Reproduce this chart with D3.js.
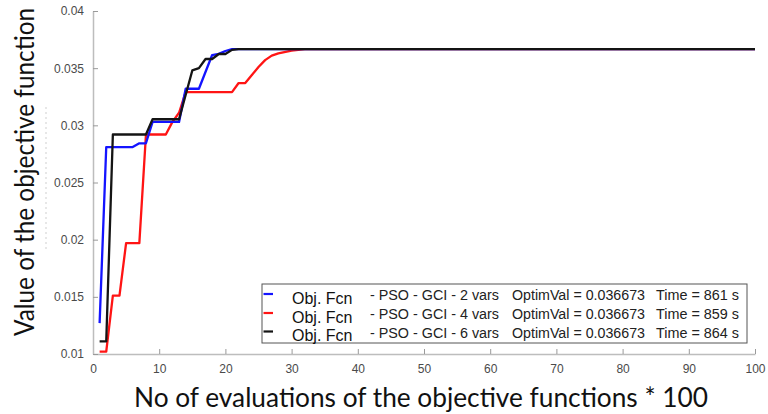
<!DOCTYPE html>
<html><head><meta charset="utf-8">
<script src="https://cdn.jsdelivr.net/npm/d3@7"></script>
<style>body{margin:0;background:#fff}svg{display:block}</style>
</head><body>
<svg id="c" width="768" height="414"></svg>
<script>
// ---- data ----
const xTicks = [0,10,20,30,40,50,60,70,80,90,100];
const yTicks = [0.01,0.015,0.02,0.025,0.03,0.035,0.04];
const yTickLabels = ["0.01","0.015","0.02","0.025","0.03","0.035","0.04"];

const blueX = [1,2,6,7,8,9,13,14,16,18,19,20,21,100];
const blueY = [0.0127,0.0281,0.0281,0.02843,0.02843,0.0303,0.0303,0.0332,0.0332,0.03615,0.03625,0.0365,0.03667,0.036673];

const redX = [1,2,3,4,5,7,8,11,12,13,14,21,22,23,24,25,26,27,28,30,32,100];
const redY = [0.0102,0.0102,0.0151,0.0151,0.0197,0.0197,0.0292,0.0292,0.0303,0.0311,0.0329,0.0329,0.0337,0.0337,0.0344,0.0351,0.0357,0.0361,0.0363,0.03653,0.03667,0.036673];

const blackX = [1,2,3,8,9,13,15,16,17,18,19,20,21,22,100];
const blackY = [0.0111,0.0111,0.0292,0.0292,0.03053,0.03053,0.0348,0.0350,0.0358,0.0358,0.03624,0.03624,0.0366,0.03667,0.036673];

const legendNames = ["Obj. Fcn","Obj. Fcn","Obj. Fcn"];
const legendMethods = ["- PSO - GCI - 2 vars","- PSO - GCI - 4 vars","- PSO - GCI - 6 vars"];
const legendOptim = ["OptimVal = 0.036673","OptimVal = 0.036673","OptimVal = 0.036673"];
const legendTimes = ["Time = 861 s","Time = 859 s","Time = 864 s"];
const seriesColors = ["#1414ff","#ff1414","#141414"];

const xLabel = "No of evaluations of the objective functions * 100";
const yLabel = "Value of the objective function";

// ---- drawing ----
const svg = d3.select("#c");
const x = d3.scaleLinear().domain([0,100]).range([93,755]);
const y = d3.scaleLinear().domain([0.01,0.04]).range([354,11]);

const axisColor = "#bdbdbd";
const tickText = "#4a4a4a";

// faint dotted artifact
svg.append("line").attr("x1",46).attr("x2",46).attr("y1",107).attr("y2",252)
  .attr("stroke","#cfcfcf").attr("stroke-width",1).attr("stroke-dasharray","2,3");

// x axis
const gx = svg.append("g").attr("transform","translate(0,354)")
  .call(d3.axisBottom(x).tickValues(xTicks).tickSizeInner(-5).tickSizeOuter(0).tickPadding(10).tickFormat(d3.format("d")));
gx.select(".domain").attr("stroke",axisColor).attr("stroke-width",1.5);
gx.selectAll(".tick line").attr("stroke","#9a9a9a");
gx.selectAll(".tick text").attr("fill",tickText).attr("font-family","Liberation Sans, Arial, sans-serif").attr("font-size",12);

// y axis
const gy = svg.append("g").attr("transform","translate(93,0)")
  .call(d3.axisLeft(y).tickValues(yTicks).tickSizeInner(-5).tickSizeOuter(0).tickPadding(9)
    .tickFormat((d,i)=>yTickLabels[i]));
gy.select(".domain").attr("stroke",axisColor).attr("stroke-width",1.5);
gy.selectAll(".tick line").attr("stroke","#9a9a9a");
gy.selectAll(".tick text").attr("fill",tickText).attr("font-family","Liberation Sans, Arial, sans-serif").attr("font-size",12);

// lines
const line = d3.line().x(d=>x(d[0])).y(d=>y(d[1]));
const series = [
  d3.zip(blueX, blueY),
  d3.zip(redX, redY),
  d3.zip(blackX, blackY)
];
// draw order: red, blue, black (black on top)
[1,0,2].forEach(i=>{
  svg.append("path").datum(series[i]).attr("d",line)
    .attr("fill","none").attr("stroke",seriesColors[i]).attr("stroke-width",2.3)
    .attr("stroke-linejoin","round");
});

// legend
const lg = svg.append("g");
lg.append("rect").attr("x",262).attr("y",284).attr("width",485).attr("height",59)
  .attr("fill","#fff").attr("stroke","#555").attr("stroke-width",1);
const rowY = [294,313,331.5];
legendNames.forEach((n,i)=>{
  const ry = rowY[i];
  lg.append("line").attr("x1",263.5).attr("x2",273).attr("y1",ry).attr("y2",ry)
    .attr("stroke",seriesColors[i]).attr("stroke-width",2.2);
  lg.append("text").attr("x",292).attr("y",ry+9.5).text(n)
    .attr("font-family","Liberation Sans, Arial, sans-serif").attr("font-size",16).attr("fill","#111");
  lg.append("text").attr("x",370).attr("y",ry+6).text(legendMethods[i])
    .attr("font-family","Liberation Sans, Arial, sans-serif").attr("font-size",14).attr("fill","#222")
    .attr("textLength",129).attr("lengthAdjust","spacingAndGlyphs");
  lg.append("text").attr("x",512).attr("y",ry+6).text(legendOptim[i])
    .attr("font-family","Liberation Sans, Arial, sans-serif").attr("font-size",14).attr("fill","#222")
    .attr("textLength",133).attr("lengthAdjust","spacingAndGlyphs");
  lg.append("text").attr("x",656).attr("y",ry+6).text(legendTimes[i])
    .attr("font-family","Liberation Sans, Arial, sans-serif").attr("font-size",14).attr("fill","#222")
    .attr("textLength",83).attr("lengthAdjust","spacingAndGlyphs");
});

// axis labels
svg.append("text").attr("x",134).attr("y",407).text(xLabel)
  .attr("font-family","Lato, 'Open Sans', sans-serif").attr("font-size",27).attr("fill","#111")
  .attr("textLength",574).attr("lengthAdjust","spacingAndGlyphs");
svg.append("text").attr("transform","translate(34,336) rotate(-90)").text(yLabel)
  .attr("font-family","Lato, 'Open Sans', sans-serif").attr("font-size",27).attr("fill","#111")
  .attr("textLength",328).attr("lengthAdjust","spacingAndGlyphs");
</script>
</body></html>
